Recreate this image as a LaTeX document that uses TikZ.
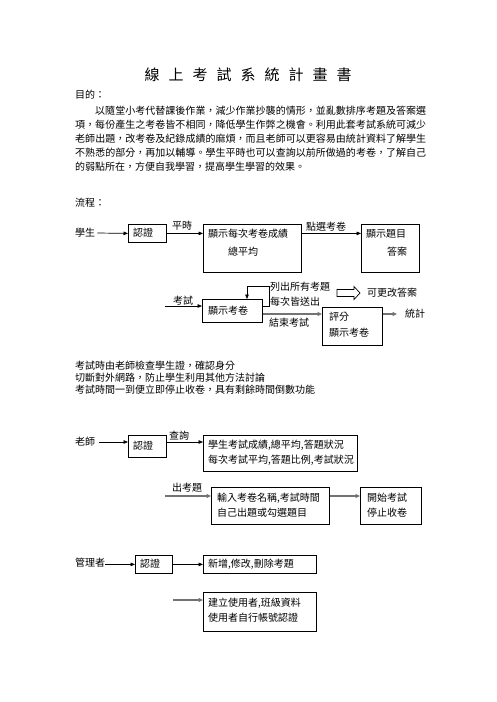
\documentclass[tikz,border=0pt]{standalone}
\usepackage{fontspec}
\newfontfamily\cjk{Noto Sans CJK TC}
\usetikzlibrary{arrows.meta}
\tikzset{
  txt/.style={font=\cjk\fontsize{10}{12}\selectfont, inner sep=0pt, anchor=west},
  lbl/.style={font=\cjk\fontsize{10}{12}\selectfont, inner sep=0pt, anchor=center},
  box/.style={draw, line width=0.8pt, anchor=north west, inner sep=0pt},
  arr/.style={-{Triangle[length=4.5pt,width=3.6pt]}, line width=0.7pt},
  garr/.style={-{Triangle[length=4.5pt,width=4pt]}, line width=1.6pt, draw=black!55, color=black!55}
}
\begin{document}
\begin{tikzpicture}[x=1pt,y=-1pt]
\useasboundingbox[fill=white] (0,0) rectangle (496,702);
% title
\node[font=\cjk\fontsize{15}{18}\selectfont, inner sep=0pt] (title) at (248,75)
  {線\hspace{9pt}上\hspace{9pt}考\hspace{9pt}試\hspace{9pt}系\hspace{9pt}統\hspace{9pt}計\hspace{9pt}畫\hspace{9pt}書};
\node[txt] (purpose) at (75,95) {目的：};
\node[font=\cjk\fontsize{10}{14}\selectfont, inner sep=0pt, anchor=north west, text width=351pt, align=justify] (para) at (75,106)
 {\XeTeXlinebreaklocale "zh"\XeTeXlinebreakskip=0pt plus 1pt\relax
 \hspace*{20pt}以隨堂小考代替課後作業，減少作業抄襲的情形，並亂數排序考題及答案選\linebreak
 項，每份產生之考卷皆不相同，降低學生作弊之機會。利用此套考試系統可減少\linebreak
 老師出題，改考卷及紀錄成績的麻煩，而且老師可以更容易由統計資料了解學生\linebreak
 不熟悉的部分，再加以輔導。學生平時也可以查詢以前所做過的考卷，了解自己\linebreak
 的弱點所在，方便自我學習，提高學生學習的效果。};
\node[txt] (flow) at (75,203) {流程：};

% row 1: student
\node[txt] (S) at (75,233) {學生};
\node[box, minimum width=38pt, minimum height=18pt] (A1) at (128,224) {};
\node[txt] (A1t) at (133,233) {認證};
\node[box, minimum width=98pt, minimum height=48pt] (A2) at (203,224) {};
\node[txt] (A2a) at (208,234) {顯示每次考卷成績};
\node[txt] (A2b) at (228,252) {總平均};
\node[box, minimum width=58pt, minimum height=48pt] (A3) at (361,224) {};
\node[txt] (A3a) at (366,234) {顯示題目};
\node[txt] (A3b) at (387,252) {答案};
\draw[arr] ([xshift=2pt]S.east) -- (A1.west);
\draw[arr] (A1.east) -- (A1.east -| A2.west);
\draw[arr] (A1.east -| A2.east) -- (A1.east -| A3.west);
\node[lbl] (l1) at (182,226) {平時};
\node[lbl] (l2) at (326,227) {點選考卷};

% row 2: exam
\coordinate (K0) at (165,306);
\coordinate (G0) at (0,314);
\coordinate (L1) at (269,286);
\coordinate (L2) at (247,286);
\node[box, minimum width=60pt, minimum height=23pt] (B1) at (202,299) {};
\node[txt] (B1t) at (208,310.5) {顯示考卷};
\node[lbl] (l3) at (183,301) {考試};
\draw[arr] (K0) -- (K0 -| B1.west);
\draw[arr] (B1.east |- K0) -| (L1) -- (L2) -- (L2 |- B1.north);
\node[txt] (l4) at (270,287) {列出所有考題};
\node[txt] (l5) at (270,302) {每次皆送出};
\node[box, minimum width=60pt, minimum height=38pt] (B2) at (322,307) {};
\node[txt] (B2a) at (329,317) {評分};
\node[txt] (B2b) at (329,333) {顯示考卷};
\draw[garr] (B1.east |- G0) -- (B2.west |- G0);
\node[txt] (l6) at (269,323) {結束考試};
\coordinate (T0) at (397,314);
\draw[garr] (B2.east |- G0) -- (T0);
\node[txt] (stat) at (405,314) {統計};
\draw[line width=0.7pt] (337,289.5) -- (354,289.5) -- (354,286.5) -- (360,293) -- (354,299.5) -- (354,296.5) -- (337,296.5) -- cycle;
\node[txt] (l7) at (367,293) {可更改答案};

% notes
\node[txt] (n1) at (75,366) {考試時由老師檢查學生證，確認身分};
\node[txt] (n2) at (75,378) {切斷對外網路，防止學生利用其他方法討論};
\node[txt] (n3) at (75,390) {考試時間一到便立即停止收卷，具有剩餘時間倒數功能};

% row 3: teacher
\coordinate (R3) at (0,442);
\node[txt] (T) at (75,442) {老師};
\node[box, minimum width=38pt, minimum height=22pt] (C1) at (128,435) {};
\node[txt] (C1t) at (133,446) {認證};
\node[box, minimum width=154pt, minimum height=36pt] (C2) at (203,435) {};
\node[txt] (C2a) at (208,445) {學生考試成績,總平均,答題狀況};
\node[txt] (C2b) at (208,460) {每次考試平均,答題比例,考試狀況};
\draw[arr] ([xshift=4pt]T.east) -- (C1.west |- R3);
\draw[arr] (C1.east |- R3) -- (C2.west |- R3);
\node[lbl] (l8) at (179,436) {查詢};

\coordinate (DQ) at (165,496);
\node[box, minimum width=118pt, minimum height=37pt] (D1) at (211,487) {};
\node[txt] (D1a) at (217,498) {輸入考卷名稱,考試時間};
\node[txt] (D1b) at (217,513) {自己出題或勾選題目};
\node[box, minimum width=61pt, minimum height=37pt] (D2) at (360,487) {};
\node[txt] (D2a) at (367,498) {開始考試};
\node[txt] (D2b) at (367,513) {停止收卷};
\draw[garr] (DQ) -- (DQ -| D1.west);
\draw[garr] (DQ -| D1.east) -- (DQ -| D2.west);
\node[lbl] (l9) at (187,488) {出考題};

% row 4: admin
\node[txt] (M) at (75,563) {管理者};
\node[box, minimum width=37pt, minimum height=18pt] (E1) at (135,555) {};
\node[txt] (E1t) at (140,564) {認證};
\node[box, minimum width=113pt, minimum height=18pt] (E2) at (203,555) {};
\node[txt] (E2t) at (208,564) {新增,修改,刪除考題};
\draw[arr] (M.east |- E1.west) -- (E1.west);
\draw[arr] (E1.east) -- (E2.west);
\coordinate (EG) at (173,600);
\node[box, minimum width=113pt, minimum height=39pt] (E3) at (203,592) {};
\node[txt] (E3a) at (208,603) {建立使用者,班級資料};
\node[txt] (E3b) at (208,618) {使用者自行帳號認證};
\draw[garr] (EG) -- (EG -| E3.west);
\end{tikzpicture}
\end{document}
